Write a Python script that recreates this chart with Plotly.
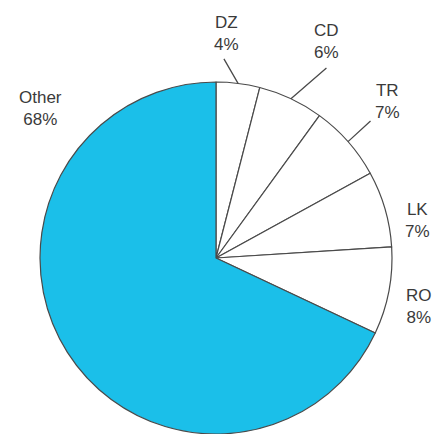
import math
import plotly.graph_objects as go

# slice data, clockwise from 12 o'clock
labels = ["DZ", "CD", "TR", "LK", "RO", "Other"]
shares = [4, 6, 7, 7, 8, 68]
colours = ["white", "white", "white", "white", "white", "#1bbfe9"]

W, H = 438, 434
# pie placement in pixels: centre and radius
cx, cy, r = 216, 258, 176

# label placement relative to the slice's mid point on the rim (pixels)
text_offset = {"DZ": (-12, -50), "CD": (36, -57), "TR": (39, -40),
               "LK": (32, 12), "RO": (30, 16), "Other": (-27, -244)}
# leader lines: tail position relative to the rim point
leader_tail = {"DZ": (-15, -26), "CD": (37, -32), "TR": (24, -22)}

fig = go.Figure(go.Pie(
    labels=labels, values=shares, sort=False, direction="clockwise", rotation=0,
    marker=dict(colors=colours, line=dict(color="#4a4a4a", width=1.2)),
    textinfo="none", hoverinfo="label+percent", showlegend=False,
    domain=dict(x=[(cx - r) / W, (cx + r) / W], y=[max(0, (H - cy - r) / H), (H - cy + r) / H]),
))

total = sum(shares)
start = 0
for lab, val in zip(labels, shares):
    mid = (start + val / 2) / total * 2 * math.pi
    start += val
    hx = cx + r * math.sin(mid)
    hy = cy - r * math.cos(mid)
    ox, oy = text_offset[lab]
    fig.add_annotation(x=(hx + ox) / W, y=1 - (hy + oy) / H, xref="paper", yref="paper",
                       text=f"{lab}<br>{round(val / total * 100)}%", showarrow=False,
                       font=dict(family="Liberation Sans, Arial", size=17, color="#3a3a3a"),
                       xanchor="center", yanchor="middle")
    if lab in leader_tail:
        tx, ty = leader_tail[lab]
        fig.add_annotation(x=hx / W, y=1 - hy / H, xref="paper", yref="paper", text="",
                           showarrow=True, arrowhead=0, arrowwidth=1.3, arrowcolor="#4a4a4a",
                           ax=tx, ay=ty, standoff=0, startstandoff=0)

fig.update_layout(width=W, height=H, margin=dict(l=0, r=0, t=0, b=0),
                  paper_bgcolor="white", plot_bgcolor="white")

# drop the default page margin so the figure fills the window exactly
fig.write_html("out.html", config={"displayModeBar": False},
               post_script="document.body.style.margin='0';document.body.style.overflow='hidden';")
